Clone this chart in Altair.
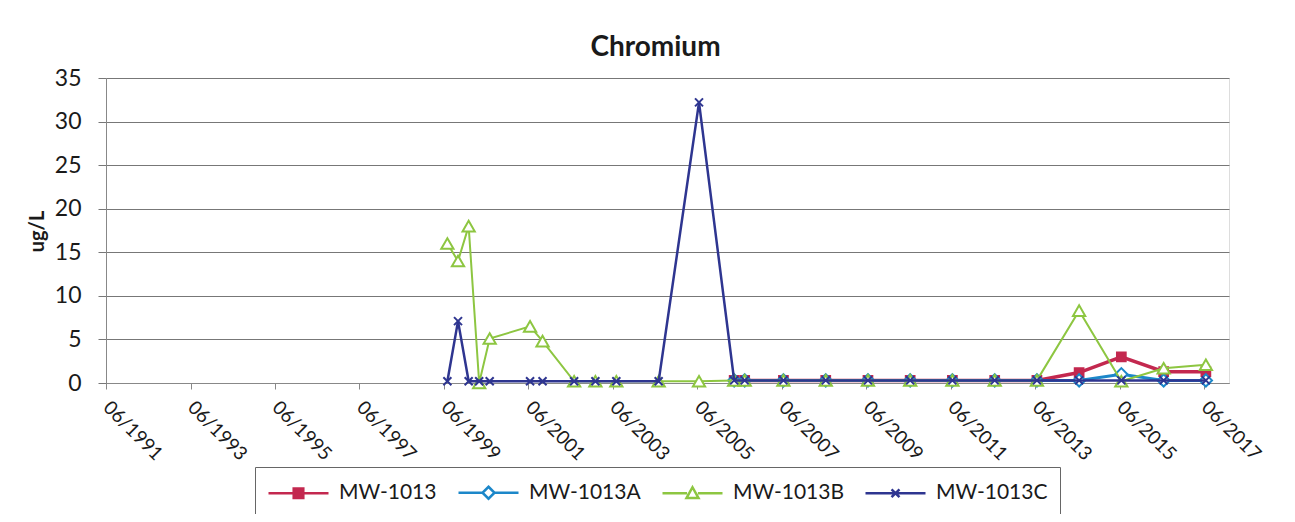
import altair as alt
import pandas as pd

# ---------------- data ----------------
series_names = ["MW-1013", "MW-1013A", "MW-1013B", "MW-1013C"]

early_dates = ["1999-07-01", "1999-10-01", "2000-01-01", "2000-04-01", "2000-07-01",
               "2001-06-15", "2001-10-01", "2002-07-01", "2003-01-01", "2003-07-01",
               "2004-07-01", "2005-06-15"]
late_dates = ["2006-04-15", "2006-07-15", "2007-06-15", "2008-06-15", "2009-06-15",
              "2010-06-15", "2011-06-15", "2012-06-15", "2013-06-15", "2014-06-15",
              "2015-06-15", "2016-06-15", "2017-06-15"]

mw1013_late = [0.3, 0.3, 0.3, 0.3, 0.3, 0.3, 0.3, 0.3, 0.3, 1.2, 3.0, 1.3, 1.3]
mw1013a_late = [0.3, 0.3, 0.3, 0.3, 0.3, 0.3, 0.3, 0.3, 0.3, 0.3, 1.0, 0.3, 0.3]
mw1013b_early = [16.0, 14.0, 18.0, 0.0, 5.1, 6.5, 4.8, 0.2, 0.2, 0.2, 0.2, 0.2]
mw1013b_late = [0.3, 0.3, 0.3, 0.3, 0.3, 0.3, 0.3, 0.3, 0.3, 8.3, 0.2, 1.7, 2.1]
mw1013c_early = [0.2, 7.1, 0.2, 0.2, 0.2, 0.2, 0.2, 0.2, 0.2, 0.2, 0.2, 32.2]
mw1013c_late = [0.3, 0.3, 0.3, 0.3, 0.3, 0.3, 0.3, 0.3, 0.3, 0.3, 0.3, 0.3, 0.3]

y_ticks = [0, 5, 10, 15, 20, 25, 30, 35]
tick_years = [1991, 1993, 1995, 1997, 1999, 2001, 2003, 2005, 2007, 2009, 2011, 2013, 2015, 2017]

rows = []
def add(name, dates, vals):
    for d, v in zip(dates, vals):
        rows.append({"series": name, "date": d + "T00:00:00", "value": v})

add("MW-1013", late_dates, mw1013_late)
add("MW-1013A", late_dates, mw1013a_late)
add("MW-1013B", early_dates, mw1013b_early)
add("MW-1013B", late_dates, mw1013b_late)
add("MW-1013C", early_dates, mw1013c_early)
add("MW-1013C", late_dates, mw1013c_late)
df = pd.DataFrame(rows)

# ---------------- style ----------------
colors = ["#C3284F", "#1C87C9", "#8DC641", "#2E3590"]
line_widths = [3.5, 3.0, 2.0, 2.5]
marker_shapes = ["square", "diamond", "triangle-up", "M-1,-1L1,1M-1,1L1,-1"]
marker_fills = ["#C3284F", "white", "white", "transparent"]
marker_sizes = [85, 150, 150, 64]
marker_strokes = [1.5, 2.0, 2.0, 2.0]

legend_paths = [
    "M-1,0H4M1.1,-0.4H1.9V0.4H1.1Z",
    "M-1,0H1M2,0H4M1.5,-0.5L2,0L1.5,0.5L1,0Z",
    "M-1,0H1.05M1.95,0H4M1.5,-0.5L2,0.4H1Z",
    "M-1,0H4M1.17,-0.33L1.83,0.33M1.17,0.33L1.83,-0.33",
]
legend_fills = ["#C3284F", "white", "white", "transparent"]

FONT = "Lato"
TXT = "#1a1a1a"

x_enc = alt.X(
    "date:T",
    scale=alt.Scale(domain=[alt.DateTime(year=1991, month=6, date=1),
                            alt.DateTime(year=2018, month=1, date=1)]),
    axis=alt.Axis(
        values=[alt.DateTime(year=y, month=6, date=1) for y in tick_years],
        format="%m/%Y", formatType="time", title=None,
        labelAngle=45, labelAlign="left", labelBaseline="middle",
        labelFont=FONT, labelFontSize=19, labelColor=TXT, labelPadding=15,
        tickSize=6, tickColor="#888", domainColor="#888", grid=False,
        labelOverlap=False, labelFlush=False,
    ),
)
y_enc = alt.Y(
    "value:Q",
    scale=alt.Scale(domain=[0, 35], nice=False),
    axis=alt.Axis(
        values=y_ticks, title="ug/L", titleFont=FONT, titleFontSize=20,
        titleFontWeight="bold", titleColor=TXT, titleAngle=-90,
        titleX=-63, titleY=153, titleAlign="center", titleBaseline="alphabetic",
        labelFont=FONT, labelFontSize=23, labelColor=TXT, labelPadding=17,
        tickSize=8, tickColor="#777", domainColor="#888",
        grid=True, gridColor="#777", gridWidth=1,
    ),
)

base = alt.Chart(df).encode(x=x_enc, y=y_enc)

layers = []
for name, c, lw, shp, fl, sz, sw in zip(series_names, colors, line_widths, marker_shapes,
                                         marker_fills, marker_sizes, marker_strokes):
    sub = base.transform_filter(alt.datum.series == name)
    layers.append(sub.mark_line(color=c, strokeWidth=lw))
    layers.append(sub.mark_point(shape=shp, fill=fl, stroke=c, size=sz,
                                 strokeWidth=sw, opacity=1))

leg = alt.Legend(
    orient="none", legendX=149, legendY=389, direction="horizontal", columns=4,
    title=None, labelFont=FONT, labelFontSize=21, labelColor=TXT,
    symbolSize=576, symbolStrokeWidth=2.5, labelOffset=45, columnPadding=16,
    strokeColor="#666", fillColor="white", padding=12,
)
legend_layer = alt.Chart(df).transform_filter("false").mark_point(opacity=1).encode(
    shape=alt.Shape("series:N", scale=alt.Scale(domain=series_names, range=legend_paths), legend=leg),
    stroke=alt.Stroke("series:N", scale=alt.Scale(domain=series_names, range=colors), legend=leg),
    fill=alt.Fill("series:N", scale=alt.Scale(domain=series_names, range=legend_fills), legend=leg),
)

chart = alt.layer(*layers, legend_layer).properties(
    width=1123, height=305,
    autosize=alt.AutoSizeParams(type="none"),
    padding={"left": 98, "top": 70, "right": 50, "bottom": 131},
    title=alt.TitleParams(text="Chromium", font=FONT, fontSize=28, fontWeight="bold",
                          color=TXT, anchor="middle", offset=5, dx=-12),
).configure_view(stroke=None).configure(background="white")

chart.save("out.html", embed_options={"renderer": "svg", "actions": False})
